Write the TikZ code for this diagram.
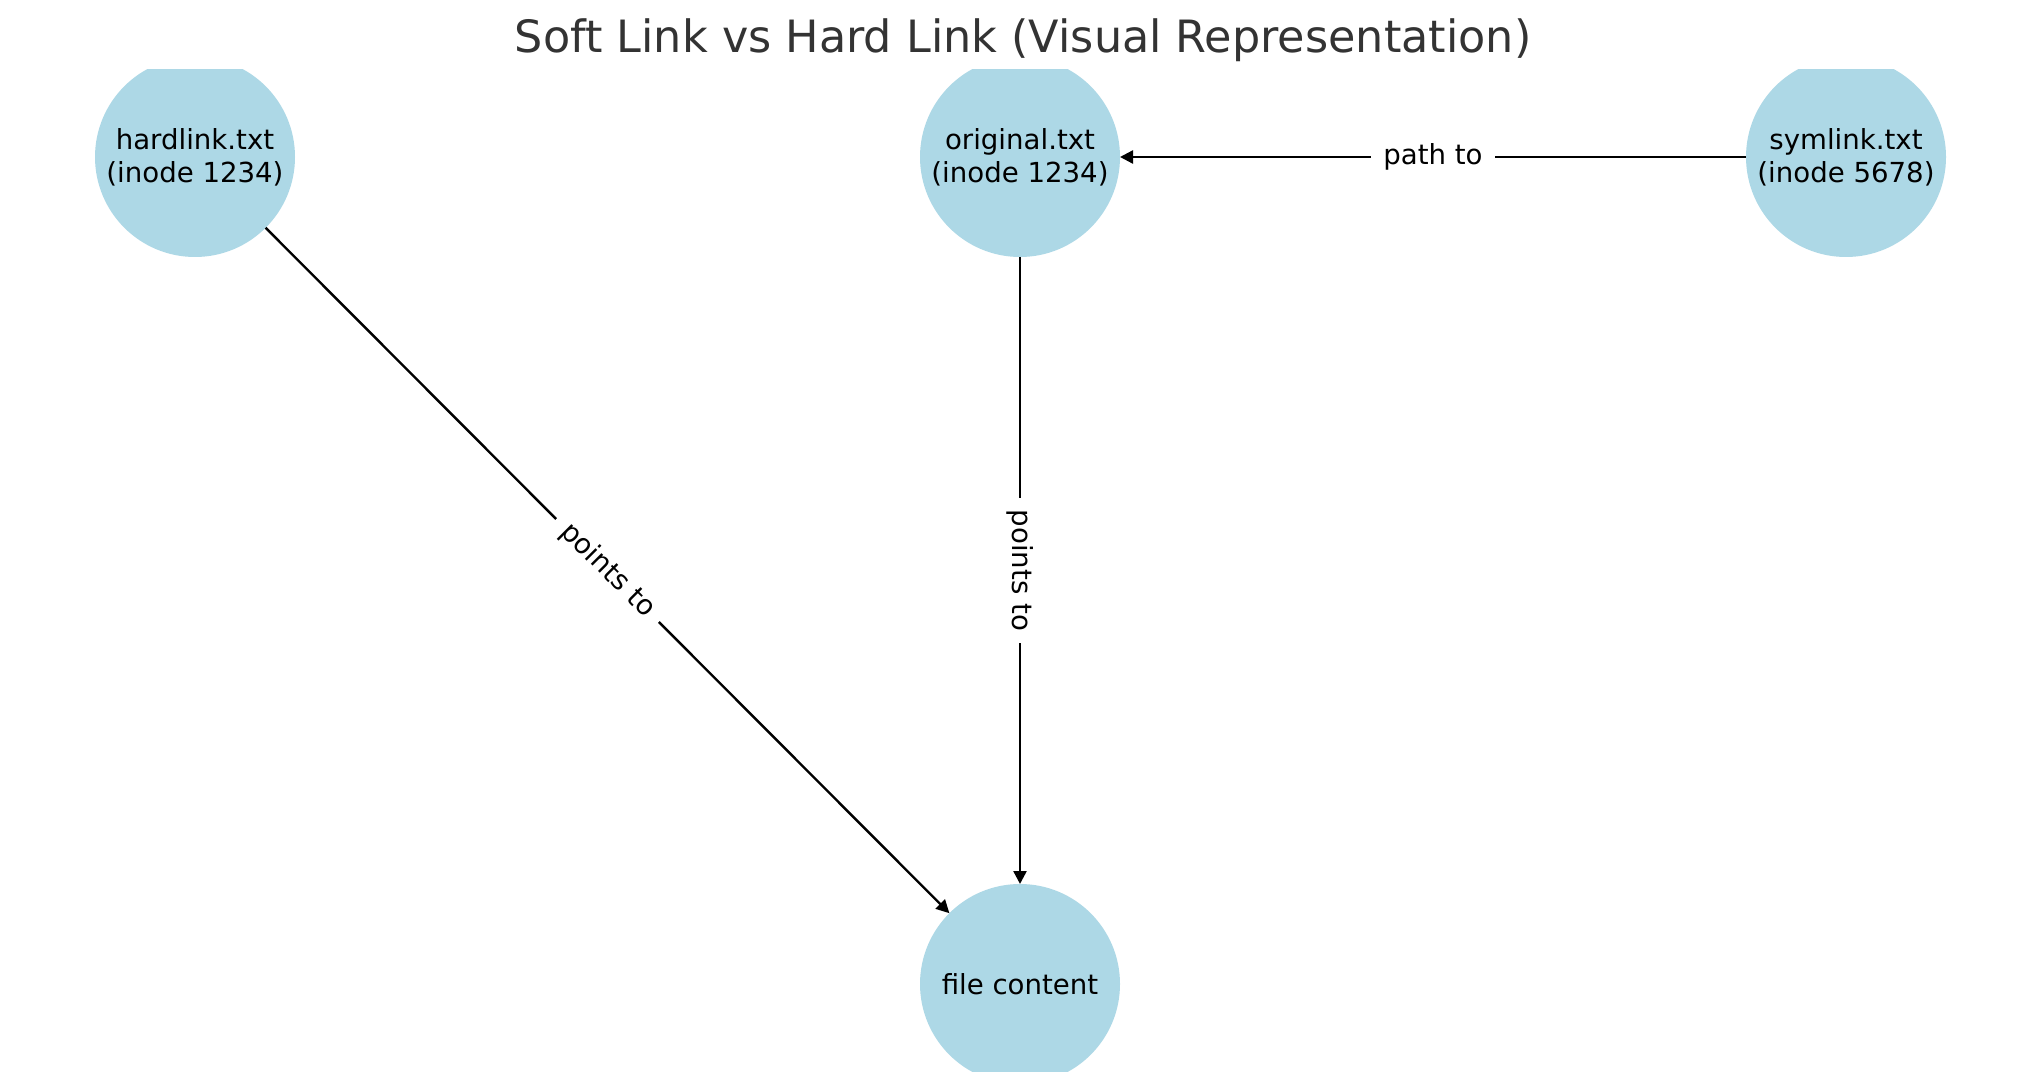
\documentclass[tikz,border=0pt]{standalone}
\usepackage{fontspec}
\setmainfont{DejaVu Sans}
\usetikzlibrary{arrows.meta}
\definecolor{nodeblue}{HTML}{ADD8E6}
\definecolor{titlegray}{HTML}{333333}
\tikzset{
  filenode/.style={circle, fill=nodeblue, minimum size=100pt, inner sep=0pt, outer sep=0pt,
    align=center, font=\fontsize{13.8pt}{16.6pt}\selectfont, text=black},
  link/.style={line width=1.2pt, draw=black, -{Triangle[length=6.5pt,width=6.5pt]}},
  lbl/.style={fill=white, inner xsep=6pt, inner ysep=3pt, font=\fontsize{13.8pt}{16.6pt}\selectfont, text=black}
}
\begin{document}
\begin{tikzpicture}[x=0.5pt,y=-0.5pt]
\useasboundingbox (0,0) rectangle (2039,1090);
\fill[white] (0,0) rectangle (2039,1090);
\node[anchor=base, font=\fontsize{22.25pt}{26pt}\selectfont, text=titlegray] (title) at (1023,53) {Soft Link vs Hard Link (Visual Representation)};
\begin{scope}
  \clip (0,70) rectangle (2039,1071);
  \node[filenode] (hard) at (195,157) {hardlink.txt\\(inode 1234)};
  \node[filenode] (orig) at (1020,157) {original.txt\\(inode 1234)};
  \node[filenode] (sym) at (1846,157) {symlink.txt\\(inode 5678)};
  \node[filenode] (file) at (1020,984) {file content};
\end{scope}
\draw[link] (hard) -- node[lbl, rotate=-45] {points to} (file);
\draw[link] (orig) -- node[lbl, rotate=-90] {points to} (file);
\draw[link] (sym) -- node[lbl] {path to} (orig);
\end{tikzpicture}
\end{document}
